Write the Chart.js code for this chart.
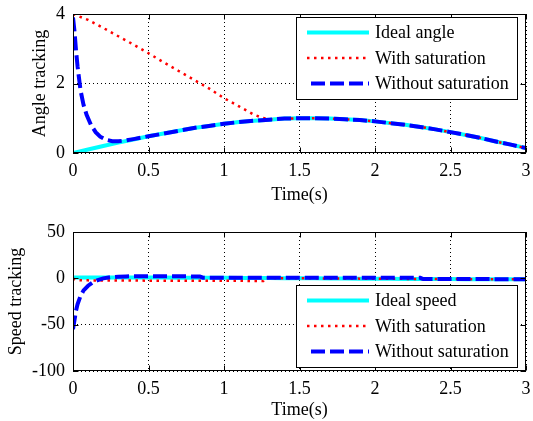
<!DOCTYPE html>
<html>
<head>
<meta charset="utf-8">
<script src="https://cdn.jsdelivr.net/npm/chart.js@4"></script>
<style>
  html, body { margin:0; padding:0; background:#fff; }
  #wrap { position:relative; width:533px; height:421px; background:#fff; overflow:hidden; }
  canvas { position:absolute; left:0; }
  #c1 { top:0; }
  #c2 { top:210px; }
</style>
</head>
<body>
<div id="wrap">
  <canvas id="c1" width="533" height="210"></canvas>
  <canvas id="c2" width="533" height="214"></canvas>
</div>
<script>
// ---------------- data ----------------
const xTicks = [0, 0.5, 1, 1.5, 2, 2.5, 3];
const xTickLabels = ['0', '0.5', '1', '1.5', '2', '2.5', '3'];
const angleTicks = [0, 2, 4];
const speedTicks = [-100, -50, 0, 50];

const angleSeriesNames = ['Ideal angle', 'With saturation', 'Without saturation'];
const speedSeriesNames = ['Ideal speed', 'With saturation', 'Without saturation'];

const timeAxis = [0,0.1,0.2,0.3,0.4,0.5,0.6,0.7,0.8,0.9,1.0,1.1,1.2,1.3,1.4,1.5,1.6,1.7,1.8,1.9,2.0,2.1,2.2,2.3,2.4,2.5,2.6,2.7,2.8,2.9,3.0];
const idealAngle = [0,0.10,0.20,0.30,0.39,0.48,0.56,0.64,0.72,0.78,0.84,0.89,0.93,0.96,0.99,1.00,1.00,0.99,0.97,0.95,0.91,0.86,0.81,0.75,0.68,0.60,0.52,0.43,0.33,0.24,0.14];

const satAngleTime = [0,0.1,0.2,0.3,0.4,0.5,0.6,0.7,0.8,0.9,1.0,1.1,1.2,1.25,1.3,1.4,1.5,1.6,1.7,1.8,1.9,2.0,2.1,2.2,2.3,2.4,2.5,2.6,2.7,2.8,2.9,3.0];
const satAngle = [4.0,3.83,3.60,3.36,3.12,2.87,2.61,2.36,2.11,1.86,1.58,1.34,1.10,1.02,0.97,0.99,1.00,1.00,0.99,0.97,0.95,0.91,0.86,0.81,0.75,0.68,0.60,0.52,0.43,0.33,0.24,0.14];

const freeAngleTime = [0,0.01,0.02,0.03,0.05,0.07,0.09,0.12,0.15,0.18,0.22,0.26,0.3,0.35,0.4,0.45,0.5,0.6,0.7,0.8,0.9,1.0,1.1,1.2,1.3,1.4,1.5,1.6,1.7,1.8,1.9,2.0,2.1,2.2,2.3,2.4,2.5,2.6,2.7,2.8,2.9,3.0];
const freeAngle = [3.9,3.5,2.95,2.5,1.8,1.38,1.1,0.8,0.6,0.47,0.38,0.34,0.34,0.36,0.40,0.44,0.48,0.56,0.64,0.72,0.78,0.84,0.89,0.93,0.96,0.99,1.00,1.00,0.99,0.97,0.95,0.91,0.86,0.81,0.75,0.68,0.60,0.52,0.43,0.33,0.24,0.14];

const idealSpeed = [1.00,0.99,0.98,0.96,0.92,0.88,0.83,0.76,0.70,0.62,0.54,0.45,0.36,0.27,0.17,0.07,-0.03,-0.13,-0.23,-0.32,-0.42,-0.50,-0.59,-0.67,-0.74,-0.80,-0.86,-0.90,-0.94,-0.97,-0.99];

const satSpeedTime = [0,0.02,0.1,0.2,0.3,0.4,0.5,0.6,0.7,0.8,0.9,1.0,1.1,1.2,1.26,1.27,1.3,1.4,1.5,1.6,1.7,1.8,1.9,2.0,2.1,2.2,2.3,2.4,2.5,2.6,2.7,2.8,2.9,3.0];
const satSpeed = [0,-2.0,-2.2,-2.3,-2.4,-2.4,-2.5,-2.5,-2.5,-2.5,-2.6,-2.7,-2.7,-2.8,-2.8,0.30,0.27,0.17,0.07,-0.03,-0.13,-0.23,-0.32,-0.42,-0.50,-0.59,-0.67,-0.74,-0.80,-0.86,-0.90,-0.94,-0.97,-0.99];

const freeSpeedTime = [0,0.01,0.02,0.03,0.05,0.07,0.1,0.13,0.16,0.2,0.25,0.3,0.35,0.5,0.7,0.84,0.86,1.0,1.5,2.0,2.3,2.32,2.5,3.0];
const freeSpeed = [-55,-45,-35,-28,-19,-13,-8,-4.5,-2.2,0,1.2,1.8,2.1,2.3,2.2,2.0,0.7,0.6,0.6,0.5,0.5,-0.8,-0.8,-0.9];

// ---------------- helpers ----------------
const FONT = 'Liberation Serif, "Times New Roman", serif';
Chart.defaults.color = '#000';
Chart.defaults.font.family = FONT;
Chart.defaults.font.size = 18;

function pts(xs, ys) { return xs.map((x, i) => ({x, y: ys[i]})); }

const styles = [
  {borderColor:'#00FFFF', borderWidth:4, borderDash:[], order:3},
  {borderColor:'#FF0000', borderWidth:2.5, borderDash:[2.5,4.5], order:2},
  {borderColor:'#0000FF', borderWidth:4, borderDash:[14,5], order:1}
];

function zeroPad(s) { s.paddingTop = 0; s.paddingBottom = 0; s.paddingLeft = 0; s.paddingRight = 0; }

const framePlugin = {
  id: 'frame',
  afterDraw(chart, args, opts) {
    const {ctx, chartArea: a, scales} = chart;
    ctx.save();
    ctx.setLineDash([]);
    ctx.strokeStyle = '#000';
    ctx.lineWidth = 1;
    const L = Math.round(a.left) + 0.5, R = Math.round(a.right) - 0.5;
    const T = Math.round(a.top) + 0.5, B = Math.round(a.bottom) - 0.5;
    const tl = 5;
    ctx.beginPath();
    scales.x.ticks.forEach(t => {
      const px = Math.round(scales.x.getPixelForValue(t.value)) + 0.5;
      ctx.moveTo(px, B); ctx.lineTo(px, B - tl);
      ctx.moveTo(px, T); ctx.lineTo(px, T + tl);
    });
    scales.y.ticks.forEach(t => {
      const py = Math.round(scales.y.getPixelForValue(t.value)) + 0.5;
      ctx.moveTo(L, py); ctx.lineTo(L + tl, py);
      ctx.moveTo(R, py); ctx.lineTo(R - tl, py);
    });
    ctx.stroke();
    ctx.strokeRect(L, T, R - L, B - T);

    const lw = 221, lh = 82;
    const lx = Math.round(a.right) - 9 - lw;
    const ly = opts.atBottom ? Math.round(a.bottom) - 4 - lh : Math.round(a.top) + 3;
    ctx.fillStyle = '#fff';
    ctx.fillRect(lx, ly, lw, lh);
    ctx.strokeRect(lx + 0.5, ly + 0.5, lw, lh);
    ctx.font = '18px ' + FONT;
    ctx.textBaseline = 'middle';
    ctx.textAlign = 'left';
    chart.data.datasets.forEach((ds, i) => {
      const yy = ly + 15.5 + i * 25.5;
      ctx.save();
      ctx.strokeStyle = ds.borderColor;
      ctx.lineWidth = ds.borderWidth;
      ctx.setLineDash(ds.borderDash || []);
      if (i === 2) ctx.lineDashOffset = -4;
      ctx.beginPath();
      ctx.moveTo(lx + 11, yy); ctx.lineTo(lx + 73, yy);
      ctx.stroke();
      ctx.restore();
      ctx.fillStyle = '#000';
      ctx.fillText(ds.label, lx + 79, yy + 1);
    });
    ctx.restore();
  }
};

function makeChart(canvasId, series, names, yMin, yMax, yTicks, yTitle, o) {
  return new Chart(document.getElementById(canvasId), {
    type: 'line',
    data: {
      datasets: series.map((s, i) => Object.assign({
        label: names[i],
        data: s,
        pointRadius: 0,
        tension: 0,
        fill: false
      }, styles[i]))
    },
    options: {
      responsive: false,
      animation: false,
      events: [],
      layout: { padding: {left:0, right:7, top:o.top, bottom:0} },
      plugins: { legend: {display:false}, tooltip: {enabled:false}, frame: {atBottom:o.legendBottom} },
      scales: {
        x: {
          type: 'linear', min: 0, max: 3,
          afterBuildTicks: s => { s.ticks = xTicks.map(v => ({value:v})); },
          ticks: { padding: 7, maxRotation: 0, autoSkip: false, font:{size:18},
                   callback: (v) => xTickLabels[xTicks.indexOf(v)] },
          grid: { color:'#000', lineWidth:1, drawTicks:false },
          border: { display:false, dash:[1,3] },
          title: { display:true, text:'Time(s)', font:{size:18}, padding:{top:0, bottom:o.xTitlePad} },
          afterFit: s => { s.height = o.xHeight; zeroPad(s); }
        },
        y: {
          type: 'linear', min: yMin, max: yMax,
          afterBuildTicks: s => { s.ticks = yTicks.map(v => ({value:v})); },
          ticks: { padding: 8, font:{size:18} },
          grid: { color:'#000', lineWidth:1, drawTicks:false },
          border: { display:false, dash:[1,3] },
          title: { display:true, text:yTitle, font:{size:18}, padding:{top:o.yTitlePad, bottom:0} },
          afterFit: s => { s.width = 73; zeroPad(s); }
        }
      }
    },
    plugins: [framePlugin]
  });
}

makeChart('c1',
  [pts(timeAxis, idealAngle), pts(satAngleTime, satAngle), pts(freeAngleTime, freeAngle)],
  angleSeriesNames, 0, 4, angleTicks, 'Angle tracking',
  {top:14, xHeight:57, xTitlePad:3.5, yTitlePad:29.5, legendBottom:false});

makeChart('c2',
  [pts(timeAxis, idealSpeed), pts(satSpeedTime, satSpeed), pts(freeSpeedTime, freeSpeed)],
  speedSeriesNames, -100, 50, speedTicks, 'Speed tracking',
  {top:22, xHeight:53, xTitlePad:2.5, yTitlePad:5.5, legendBottom:true});
</script>
</body>
</html>
